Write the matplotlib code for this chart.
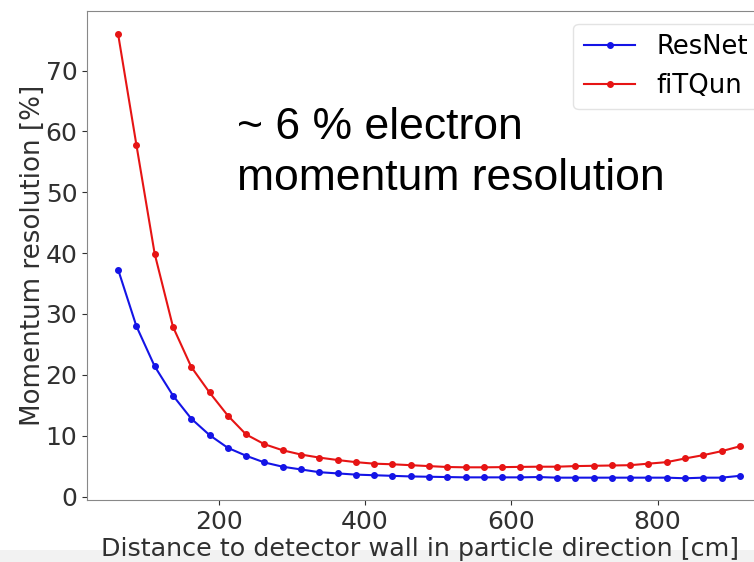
import numpy as np
import matplotlib.pyplot as plt
from matplotlib.patches import Rectangle

# distance bins (bin centres, cm)
distancia = np.arange(62.5, 913, 25)

resnet = [37.3, 28.0, 21.4, 16.6, 12.8, 10.1, 8.0, 6.7, 5.6, 4.9,
          4.45, 4.0, 3.8, 3.6, 3.5, 3.4, 3.3, 3.25, 3.2, 3.15,
          3.15, 3.15, 3.15, 3.2, 3.1, 3.1, 3.1, 3.1, 3.1, 3.1,
          3.1, 3.0, 3.1, 3.1, 3.4]

fitqun = [76.0, 57.8, 39.9, 27.9, 21.3, 17.1, 13.3, 10.2, 8.6, 7.6,
          6.9, 6.4, 6.0, 5.65, 5.4, 5.3, 5.15, 5.0, 4.85, 4.8,
          4.8, 4.83, 4.87, 4.9, 4.9, 5.0, 5.05, 5.1, 5.15, 5.4,
          5.65, 6.25, 6.8, 7.45, 8.25]

fs_tick = 18
fs_lab = 18.8

fig = plt.figure(figsize=(7.54, 5.62), dpi=100)
# the original is a cropped screenshot: axes runs past the right edge
ax = fig.add_axes([0.1154, 0.110, 0.907, 0.8706])

ax.plot(distancia, resnet, label='ResNet', marker='o', markersize=4,
        linestyle='-', color='#1414e6', linewidth=1.5)
ax.plot(distancia, fitqun, label='fiTQun', marker='o', markersize=4,
        linestyle='-', color='#e61414', linewidth=1.5)

ax.set_xlim(20, 955)
ax.set_ylim(-0.6, 79.8)
ax.set_xticks([200, 400, 600, 800])
ax.set_yticks([0, 10, 20, 30, 40, 50, 60, 70])
ax.tick_params(labelsize=fs_tick, colors='#303030', direction='out')
for sp in ax.spines.values():
    sp.set_color('#888888')

# slightly smaller than in the screenshot so that the whole label stays visible
ax.set_xlabel('Distance to detector wall in particle direction [cm]',
              fontsize=18.3, color='#303030', loc='left')
ax.xaxis.set_label_coords(0.021, -0.075)
ax.set_ylabel('Momentum resolution [%]', fontsize=fs_lab, color='#303030')
ax.yaxis.set_label_coords(-0.06, 0.5)

leg = ax.legend(loc='upper right', fontsize=18.6, frameon=True)
leg.get_frame().set_edgecolor('#dddddd')

fig.text(0.314, 0.728, '~ 6 % electron\nmomentum resolution',
         fontsize=32, family='Liberation Sans', color='black',
         va='center', ha='left', linespacing=1.3)

# light grey strip at the very bottom of the screenshot
fig.patches.append(Rectangle((0, 0), 1, 12 / 562, transform=fig.transFigure,
                             facecolor='#f2f2f2', edgecolor='none', zorder=-1))

fig.savefig('out.png', dpi=100)
